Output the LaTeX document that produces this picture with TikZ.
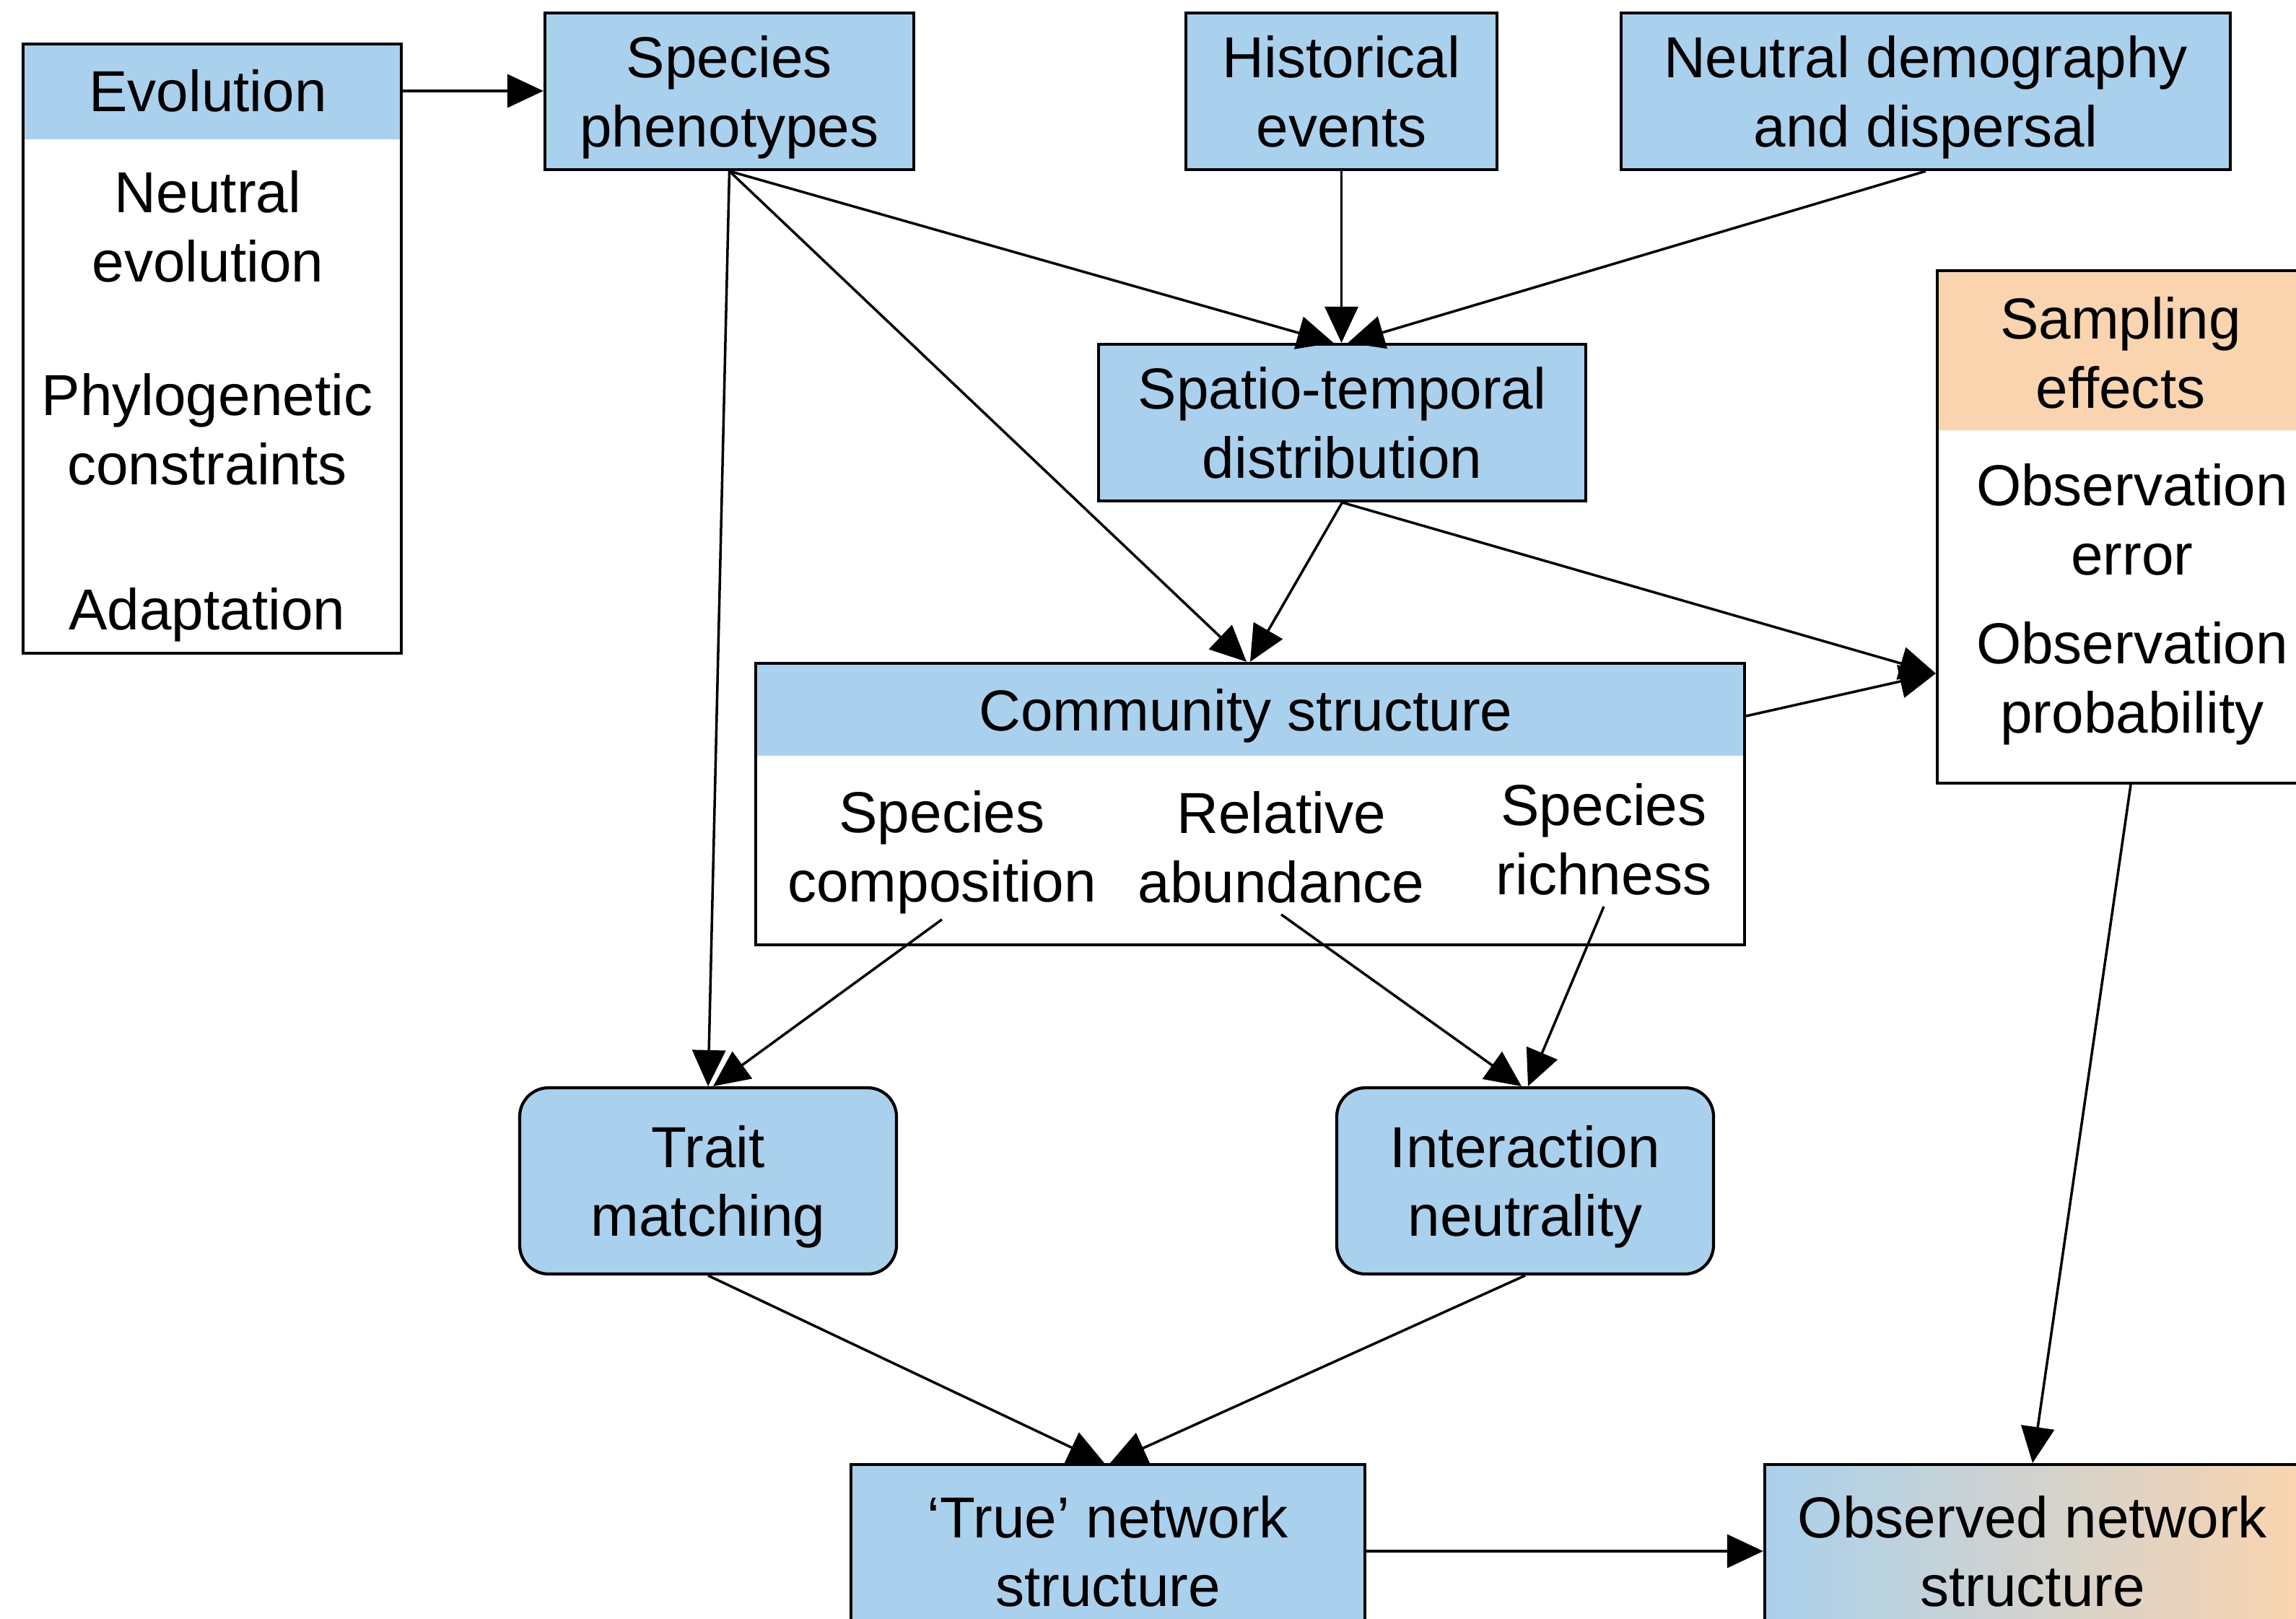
\documentclass[tikz,border=0pt]{standalone}
\usepackage{fontspec}
\setmainfont{Liberation Sans}
\usetikzlibrary{arrows.meta}

\definecolor{boxblue}{RGB}{169,209,237}
\definecolor{boxorange}{RGB}{250,212,175}

\tikzset{
    box/.style={draw, line width=1.2pt, fill=boxblue, align=center, inner sep=0pt, text depth=0pt},
    roundbox/.style={box, rounded corners=0.4cm},
    headbox/.style 2 args={draw, line width=1.2pt, fill=white, inner sep=0pt,
        path picture={\fill[#2] (path picture bounding box.north west)
            rectangle ([yshift=-#1]path picture bounding box.north east);}},
    lbl/.style={align=center, inner sep=0pt},
    arr/.style={line width=1pt, -{Triangle[length=0.5cm,width=0.46cm]}}
}

\begin{document}
\begin{tikzpicture}[font=\fontsize{22.8}{27.2}\selectfont]

\useasboundingbox (0,0) rectangle (31.81,-22.42);
\clip (0,0) rectangle (31.81,-22.42);

% Evolution
\node[headbox={1.32cm}{boxblue}, minimum width=5.24cm, minimum height=8.44cm] (evo) at (2.94,-4.83) {};
\node[lbl] (evohead) at (2.88,-1.26) {Evolution};
\node[lbl] (neutevo) at (2.88,-3.14) {Neutral\\evolution};
\node[lbl] (phylo) at (2.87,-5.95) {Phylogenetic\\constraints};
\node[lbl] (adapt) at (2.87,-8.52) {Adaptation};

% Top row
\node[box, minimum width=5.11cm, minimum height=2.17cm] (phen) at (10.105,-1.265) {Species\\phenotypes};
\node[box, minimum width=4.31cm, minimum height=2.17cm] (hist) at (18.585,-1.265) {Historical\\events};
\node[box, minimum width=8.44cm, minimum height=2.17cm] (demo) at (26.68,-1.265) {Neutral demography\\and dispersal};

% Distribution
\node[box, minimum width=6.75cm, minimum height=2.17cm] (spat) at (18.595,-5.855) {Spatio-temporal\\distribution};

% Sampling effects
\node[headbox={2.21cm}{boxorange}, minimum width=5.36cm, minimum height=7.10cm] (samp) at (29.52,-7.30) {};
\node[lbl] (samphead) at (29.38,-4.89) {Sampling\\effects};
\node[lbl] (obserr) at (29.54,-7.20) {Observation\\error};
\node[lbl] (obsprob) at (29.54,-9.47) {Observation\\probability};
\coordinate (sampin) at ([yshift=-2.03cm]samp.west);

% Community structure
\node[headbox={1.28cm}{boxblue}, minimum width=13.70cm, minimum height=3.90cm] (comm) at (17.32,-11.14) {};
\node[lbl] (commhead) at (17.26,-9.92) {Community structure};
\node[lbl] (comp) at (13.05,-11.81) {Species\\composition};
\node[lbl] (abund) at (17.75,-11.74) {Relative\\abundance};
\node[lbl] (rich) at (22.22,-11.63) {Species\\richness};

% Mechanisms
\node[roundbox, minimum width=5.22cm, minimum height=2.58cm] (trait) at (9.81,-16.36) {Trait\\matching};
\node[roundbox, minimum width=5.22cm, minimum height=2.58cm] (inter) at (21.13,-16.36) {Interaction\\neutrality};

% Networks
\node[box, minimum width=7.12cm, minimum height=2.40cm] (truenet) at (15.35,-21.49) {‘True’ network\\structure};
\node[box, left color=boxblue, right color=boxorange, minimum width=7.42cm, minimum height=2.40cm] (obsnet) at (28.16,-21.49) {Observed network\\structure};

% Arrows
\draw[arr] (evo.east |- evohead) -- (phen.west |- evohead);
\draw[arr] (phen.south) -- ([xshift=-0.12cm]spat.north);
\draw[arr] (hist.south) -- (hist.south |- spat.north);
\draw[arr] (demo.south) -- ([xshift=0.08cm]spat.north);
\draw[arr] (phen.south) -- ([xshift=-0.05cm]comm.north);
\draw[arr] (spat.south) -- (comm.north);
\draw[arr] (phen.south) -- (trait.north);
\draw[arr] (spat.south) -- (sampin);
\draw[arr] (comm.east |- commhead) -- (sampin);
\draw[arr] ([yshift=-0.07cm]comp.south) -- ([xshift=0.07cm]trait.north);
\draw[arr] ([yshift=-0.15cm]abund.south) -- ([xshift=-0.05cm]inter.north);
\draw[arr] ([yshift=-0.15cm]rich.south) -- ([xshift=0.04cm]inter.north);
\draw[arr] (trait.south) -- ([xshift=-0.05cm]truenet.north);
\draw[arr] (inter.south) -- ([xshift=0.03cm]truenet.north);
\draw[arr] (samp.south) -- (obsnet.north);
\draw[arr] (truenet.east) -- (obsnet.west);

\end{tikzpicture}
\end{document}
